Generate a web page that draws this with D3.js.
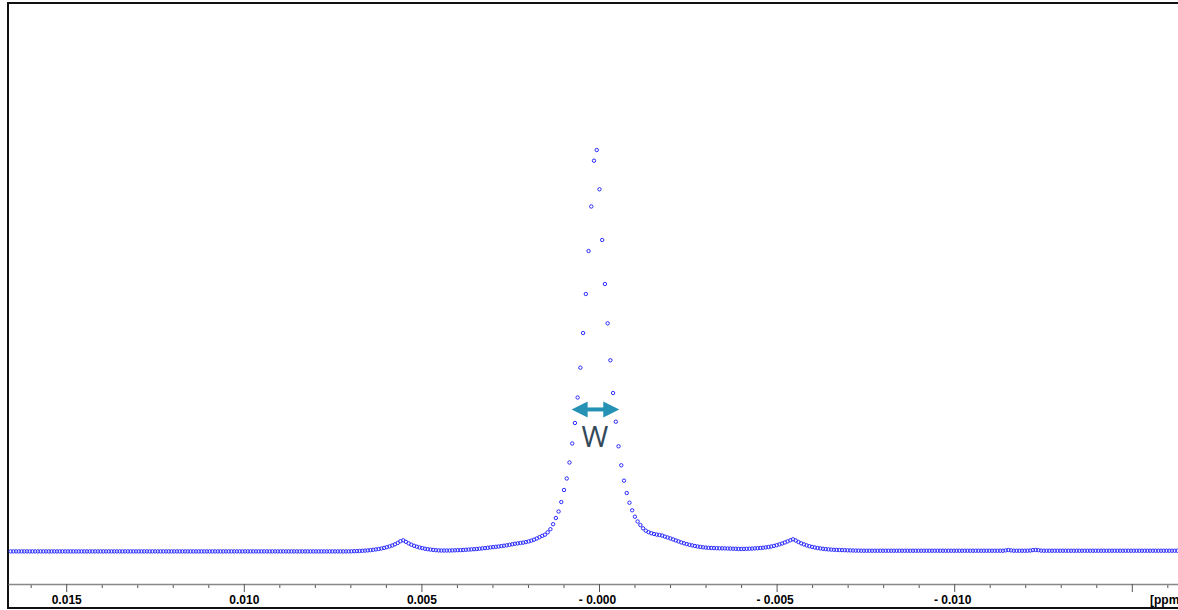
<!DOCTYPE html>
<html>
<head>
  <meta charset="utf-8">
  <title>Spectrum line width</title>
  <script src="https://d3js.org/d3.v7.min.js"></script>
  <style>
    body { margin: 0; background: #fff; }
    .axis text {
      font-family: "Liberation Sans", Arial, sans-serif;
      font-size: 12px;
      font-weight: bold;
      fill: #000;
    }
  </style>
</head>
<body>
  <svg id="spectrum" width="1178" height="610"></svg>

  <script>
    // spectral axis: chemical shift of the first point and point spacing (ppm)
    var ppmFirst = 0.016565;
    var ppmStep = 0.00007675;

    // intensities, peak = 100
    var intensity = [
      0, 0, 0, 0, 0, 0, 0, 0, 0, 0,
      0, 0, 0, 0, 0, 0, 0, 0, 0, 0,
      0, 0, 0, 0, 0, 0, 0, 0, 0, 0,
      0, 0, 0, 0, 0, 0, 0, 0, 0, 0,
      0, 0, 0, 0, 0, 0, 0, 0, 0, 0,
      0, 0, 0, 0, 0, 0, 0, 0, 0, 0,
      0, 0, 0, 0, 0, 0, 0, 0, 0, 0,
      0, 0, 0, 0, 0, 0, 0, 0, 0, 0,
      0, 0, 0, 0, 0, 0, 0, 0, 0, 0,
      0, 0, 0, 0, 0, 0, 0, 0, 0, 0,
      0, 0, 0, 0, 0, 0, 0, 0, 0, 0,
      0, 0, 0, 0, 0, 0, 0, 0, 0, 0,
      0, 0, 0, 0, 0, 0.02, 0.05, 0.07, 0.10, 0.15,
      0.20, 0.25, 0.32, 0.40, 0.50, 0.60, 0.72, 0.87, 1.05, 1.25,
      1.47, 1.77, 2.12, 2.54, 2.77, 2.39, 2.00, 1.67, 1.40, 1.17,
      0.97, 0.82, 0.67, 0.55, 0.45, 0.37, 0.30, 0.25, 0.22, 0.22,
      0.22, 0.22, 0.25, 0.27, 0.30, 0.32, 0.35, 0.40, 0.45, 0.50,
      0.55, 0.60, 0.67, 0.75, 0.82, 0.90, 1.00, 1.07, 1.15, 1.22,
      1.32, 1.42, 1.52, 1.65, 1.77, 1.90, 2.00, 2.09, 2.19, 2.32,
      2.49, 2.69, 2.92, 3.22, 3.54, 3.87, 4.16, 4.76, 5.54, 6.78,
      8.33, 9.95, 12.32, 15.31, 18.18, 22.17, 26.91, 32.02, 38.38, 45.81,
      54.46, 64.19, 74.91, 86.01, 97.43, 100.10, 90.30, 77.66, 66.68, 56.88,
      47.66, 39.50, 32.34, 26.21, 21.47, 17.63, 14.56, 12.14, 10.25, 8.65,
      7.46, 6.58, 5.76, 5.16, 4.79, 4.54, 4.34, 4.19, 4.09, 3.94,
      3.69, 3.47, 3.24, 2.99, 2.74, 2.49, 2.24, 2.02, 1.82, 1.65,
      1.50, 1.35, 1.22, 1.12, 1.02, 0.95, 0.90, 0.85, 0.82, 0.80,
      0.77, 0.77, 0.75, 0.72, 0.70, 0.67, 0.65, 0.62, 0.60, 0.62,
      0.65, 0.67, 0.70, 0.75, 0.80, 0.85, 0.92, 1.00, 1.10, 1.22,
      1.37, 1.55, 1.75, 1.97, 2.22, 2.49, 2.77, 3.02, 2.72, 2.34,
      2.02, 1.75, 1.50, 1.30, 1.12, 0.97, 0.85, 0.75, 0.65, 0.57,
      0.50, 0.45, 0.40, 0.37, 0.35, 0.32, 0.30, 0.27, 0.25, 0.22,
      0.20, 0.20, 0.18, 0.17, 0.17, 0.17, 0.17, 0.17, 0.17, 0.17,
      0.17, 0.17, 0.17, 0.17, 0.17, 0.17, 0.17, 0.17, 0.17, 0.17,
      0.17, 0.17, 0.17, 0.17, 0.17, 0.17, 0.17, 0.17, 0.17, 0.17,
      0.17, 0.17, 0.17, 0.17, 0.17, 0.17, 0.17, 0.17, 0.17, 0.17,
      0.17, 0.17, 0.17, 0.17, 0.17, 0.17, 0.17, 0.17, 0.17, 0.17,
      0.17, 0.17, 0.17, 0.17, 0.17, 0.25, 0.35, 0.25, 0.17, 0.17,
      0.17, 0.17, 0.17, 0.17, 0.22, 0.32, 0.35, 0.30, 0.20, 0.17,
      0.17, 0.17, 0.17, 0.17, 0.17, 0.17, 0.17, 0.17, 0.17, 0.17,
      0.17, 0.17, 0.17, 0.17, 0.17, 0.17, 0.17, 0.17, 0.17, 0.17,
      0.17, 0.17, 0.17, 0.17, 0.17, 0.17, 0.17, 0.17, 0.17, 0.17,
      0.17, 0.17, 0.17, 0.17, 0.17, 0.17, 0.17, 0.17, 0.17, 0.17,
      0.17, 0.17, 0.17, 0.17, 0.17, 0.17, 0.17, 0.17, 0.17
    ];

    var majorTicks = [0.015, 0.010, 0.005, 0.000, -0.005, -0.010, -0.015];
    var majorLabels = ["0.015", "0.010", "0.005", "- 0.000", "- 0.005", "- 0.010", ""];
    var minorTicks = [0.016, 0.014, 0.013, 0.012, 0.011, 0.009, 0.008, 0.007, 0.006,
      0.004, 0.003, 0.002, 0.001, -0.001, -0.002, -0.003, -0.004, -0.006, -0.007,
      -0.008, -0.009, -0.011, -0.012, -0.013, -0.014, -0.016];
    var unitLabel = "[ppm]";

    // line width marker: edges (ppm) and height (intensity)
    var wLeft = 0.00077;
    var wRight = -0.00057;
    var wLevel = 35.4;
    var wText = "W";

    var svg = d3.select("#spectrum");

    // ppm axis runs right to left
    var x = d3.scaleLinear()
      .domain([0.016639, -0.016301])
      .range([8, 1178]);

    var y = d3.scaleLinear()
      .domain([0, 100])
      .range([551.4, 150.4]);

    var axisY = 584;

    // frame
    svg.append("rect")
      .attr("x", 8)
      .attr("y", 3)
      .attr("width", 1200)
      .attr("height", 605)
      .attr("fill", "none")
      .attr("stroke", "#111")
      .attr("stroke-width", 2);

    // minor ticks
    svg.append("g")
      .attr("class", "axis minor")
      .attr("transform", "translate(0," + axisY + ")")
      .call(d3.axisBottom(x).tickValues(minorTicks).tickSize(4).tickSizeOuter(0).tickFormat(""))
      .call(function(g) { g.select(".domain").remove(); })
      .call(function(g) { g.selectAll(".tick line").attr("stroke", "#555"); });

    // major ticks with labels
    var major = svg.append("g")
      .attr("class", "axis major")
      .attr("transform", "translate(0," + axisY + ")")
      .call(d3.axisBottom(x)
        .tickValues(majorTicks)
        .tickSize(8)
        .tickSizeOuter(0)
        .tickPadding(3.5)
        .tickFormat(function(d, i) { return majorLabels[i]; }));

    major.select(".domain").attr("stroke", "#888").attr("stroke-width", 1.5);
    major.selectAll(".tick line").attr("stroke", "#555");
    major.selectAll(".tick text")
      .attr("dx", function(d) { return d <= 0 ? -2 : 0; });

    major.append("text")
      .attr("x", 1150)
      .attr("y", 20)
      .attr("text-anchor", "start")
      .text(unitLabel);

    // data points
    svg.append("g")
      .selectAll("circle")
      .data(intensity)
      .join("circle")
      .attr("cx", function(d, i) { return x(ppmFirst - i * ppmStep); })
      .attr("cy", function(d) { return y(d); })
      .attr("r", 1.7)
      .attr("fill", "none")
      .attr("stroke", "#2b2bff")
      .attr("stroke-width", 1);

    // double arrow marking the line width
    var ax0 = x(wLeft), ax1 = x(wRight), ay = y(wLevel);
    var head = 16, half = 8;
    var arrowColor = "#2592b5";

    svg.append("line")
      .attr("x1", ax0 + head - 1)
      .attr("x2", ax1 - head + 1)
      .attr("y1", ay)
      .attr("y2", ay)
      .attr("stroke", arrowColor)
      .attr("stroke-width", 4);

    svg.append("path")
      .attr("d", "M" + ax0 + "," + ay + "L" + (ax0 + head) + "," + (ay - half) + "L" + (ax0 + head) + "," + (ay + half) + "Z")
      .attr("fill", arrowColor);

    svg.append("path")
      .attr("d", "M" + ax1 + "," + ay + "L" + (ax1 - head) + "," + (ay - half) + "L" + (ax1 - head) + "," + (ay + half) + "Z")
      .attr("fill", arrowColor);

    svg.append("text")
      .attr("x", (ax0 + ax1) / 2 - 0.5)
      .attr("y", ay + 38)
      .attr("text-anchor", "middle")
      .attr("font-family", "'Open Sans', 'Liberation Sans', sans-serif")
      .attr("font-size", 29)
      .attr("fill", "#34495a")
      .text(wText);
  </script>
</body>
</html>
